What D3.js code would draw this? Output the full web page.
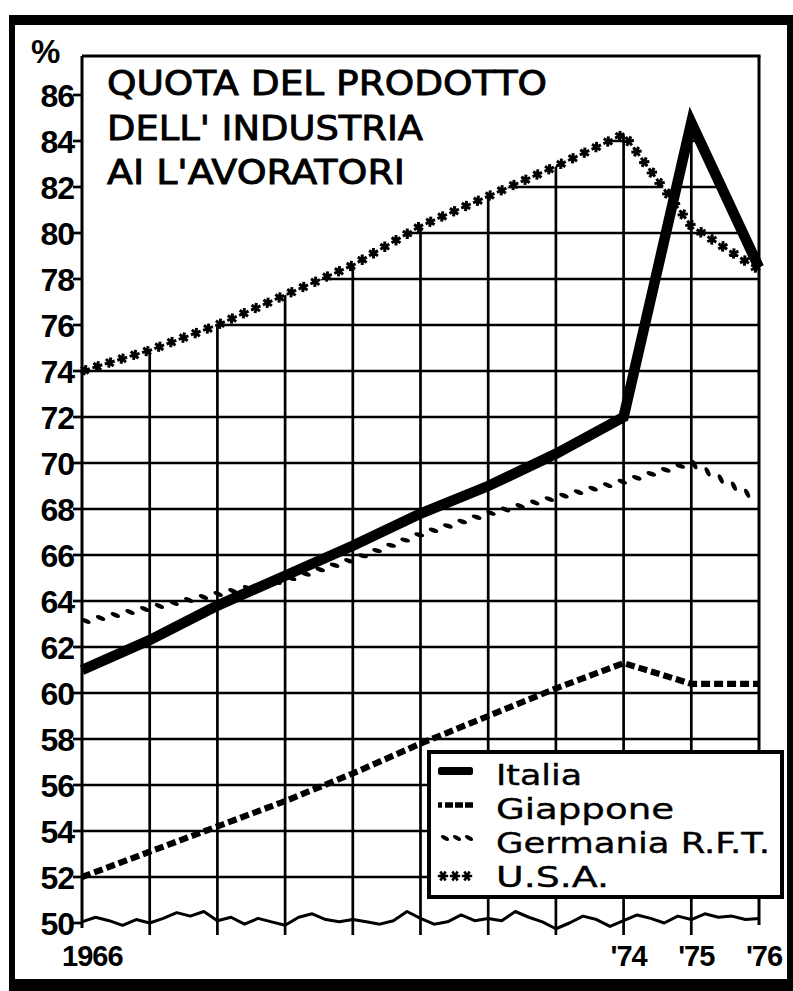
<!DOCTYPE html>
<html>
<head>
<meta charset="utf-8">
<script src="https://cdn.jsdelivr.net/npm/d3@7"></script>
<style>
  body { margin: 0; background: #fff; }
  svg { display: block; }
</style>
</head>
<body>
<svg width="793" height="991"></svg>
<script>

var years = [1966, 1967, 1968, 1969, 1970, 1971, 1972, 1973, 1974, 1975, 1976];

var italia   = [61.0, 62.3, 63.8, 65.1, 66.4, 67.8, 69.0, 70.4, 72.0, 84.8, 78.5];
var giappone = [52.0, 53.1, 54.2, 55.3, 56.5, 57.8, 59.0, 60.2, 61.3, 60.4, 60.4];
var germania = [63.1, 63.7, 64.3, 64.9, 65.8, 66.9, 67.8, 68.5, 69.2, 70.0, 68.4];
var usa      = [74.0, 74.9, 76.0, 77.3, 78.6, 80.3, 81.6, 82.9, 84.3, 80.3, 78.4];

var yTicks = [50, 52, 54, 56, 58, 60, 62, 64, 66, 68, 70, 72, 74, 76, 78, 80, 82, 84, 86];
var xTickYears  = [1966, 1974, 1975, 1976];
var xTickLabels = ["1966", "'74", "'75", "'76"];

var titleLines = ["QUOTA DEL PRODOTTO", "DELL' INDUSTRIA", "AI L'AVORATORI"];
var legendNames = ["Italia", "Giappone", "Germania R.F.T.", "U.S.A."];

// torn-paper baseline at 50, read every fifth of a year
var baseline = [50.05, 50.25, 50.1, 49.9, 50.15, 50.0, 50.2, 50.45, 50.3, 50.5, 50.1,
                50.25, 49.95, 50.2, 50.05, 49.9, 50.25, 50.4, 50.15, 50.05, 50.15,
                50.05, 49.95, 50.1, 50.5, 50.2, 49.95, 50.05, 50.35, 50.1, 50.2,
                50.1, 50.5, 50.25, 50.05, 49.75, 50.0, 50.3, 50.15, 49.85, 50.1,
                50.35, 50.2, 50.0, 50.3, 50.15, 50.4, 50.25, 50.3, 50.15, 50.2];

var svg = d3.select("svg");

var x = d3.scaleLinear().domain([1966, 1976]).range([82, 759]);
var y = d3.scaleLinear().domain([50, 86]).range([923, 95]);

var plotTop = 56, gridBottom = 935;

var pts = function(arr) {
    return arr.map(function(v, i) { return {year: years[i], v: v}; });
};

var line = d3.line()
    .x(function(d) { return x(d.year); })
    .y(function(d) { return y(d.v); });

// outer frame
var frame = svg.append("g").attr("class", "frame");
frame.append("rect").attr("x", 9).attr("y", 15).attr("width", 784).attr("height", 10);
frame.append("rect").attr("x", 9).attr("y", 15).attr("width", 6).attr("height", 976);
frame.append("rect").attr("x", 787).attr("y", 15).attr("width", 6).attr("height", 976);
frame.append("rect").attr("x", 9).attr("y", 979).attr("width", 784).attr("height", 12);

// grid only shows below the highest curve
var area = d3.area()
    .x(function(d) { return x(d.year); })
    .y0(gridBottom + 5)
    .y1(function(d) { return y(d.v); });

var clip = svg.append("defs").append("clipPath").attr("id", "gridclip");
clip.append("path").attr("d", area(pts(usa)));
clip.append("path").attr("d", area(pts(italia)));

var grid = svg.append("g")
    .attr("class", "grid")
    .attr("clip-path", "url(#gridclip)")
    .attr("stroke", "#000")
    .attr("stroke-width", 2.7);

grid.selectAll("line.h")
    .data(yTicks.filter(function(t) { return t > 50; }))
    .enter().append("line")
      .attr("class", "h")
      .attr("x1", x(1966)).attr("x2", x(1976))
      .attr("y1", function(d) { return y(d); })
      .attr("y2", function(d) { return y(d); });

grid.selectAll("line.v")
    .data(years.slice(1, -1))
    .enter().append("line")
      .attr("class", "v")
      .attr("x1", function(d) { return x(d); })
      .attr("x2", function(d) { return x(d); })
      .attr("y1", plotTop)
      .attr("y2", gridBottom);

// plot border
var border = svg.append("g").attr("stroke", "#000").attr("stroke-width", 3);
border.append("line").attr("x1", x(1966)).attr("x2", x(1976) + 1.5).attr("y1", plotTop).attr("y2", plotTop);
border.append("line").attr("x1", x(1966)).attr("x2", x(1966)).attr("y1", plotTop).attr("y2", 928);
border.append("line").attr("x1", x(1976)).attr("x2", x(1976)).attr("y1", plotTop).attr("y2", 925);

var baseLine = d3.line()
    .x(function(d, i) { return x(1966 + i / 5); })
    .y(function(d) { return y(d); });

svg.append("path")
    .attr("d", baseLine(baseline))
    .attr("fill", "none")
    .attr("stroke", "#000")
    .attr("stroke-width", 3)
    .attr("stroke-linejoin", "round");

// y axis ticks and labels
var yAxis = svg.append("g").attr("class", "yaxis");
yAxis.selectAll("line")
    .data(yTicks)
    .enter().append("line")
      .attr("x1", 73).attr("x2", x(1966))
      .attr("y1", function(d) { return y(d); })
      .attr("y2", function(d) { return y(d); })
      .attr("stroke", "#000")
      .attr("stroke-width", 2.7);

yAxis.selectAll("text")
    .data(yTicks)
    .enter().append("text")
      .attr("x", 74)
      .attr("y", function(d) { return y(d) + 11.5; })
      .attr("text-anchor", "end")
      .attr("font-family", "Liberation Sans, Arial, sans-serif")
      .attr("font-weight", "bold")
      .attr("font-size", 32)
      .attr("letter-spacing", -1)
      .text(function(d) { return d; });

svg.append("text")
    .attr("x", 31).attr("y", 63)
    .attr("font-family", "Liberation Sans, Arial, sans-serif")
    .attr("font-weight", "bold")
    .attr("font-size", 33)
    .text("%");

// x labels
svg.append("g").selectAll("text")
    .data(xTickYears)
    .enter().append("text")
      .attr("x", function(d, i) { return i == 0 ? 62 : x(d) + 5; })
      .attr("y", 966)
      .attr("text-anchor", function(d, i) { return i == 0 ? "start" : "middle"; })
      .attr("font-family", "Liberation Sans, Arial, sans-serif")
      .attr("font-weight", "bold")
      .attr("font-size", 29)
      .attr("letter-spacing", -1)
      .text(function(d, i) { return xTickLabels[i]; });

// title
var titleLengths = [440, 316, 298];
svg.append("g").selectAll("text")
    .data(titleLines)
    .enter().append("text")
      .attr("x", 107)
      .attr("y", function(d, i) { return 95 + i * 44.5; })
      .attr("font-family", "DejaVu Sans, sans-serif")
      .attr("font-size", 34)
      .attr("stroke", "#000")
      .attr("stroke-width", 0.9)
      .attr("textLength", function(d, i) { return titleLengths[i]; })
      .attr("lengthAdjust", "spacingAndGlyphs")
      .text(function(d) { return d; });

// series
svg.append("path")
    .attr("d", line(pts(giappone)))
    .attr("fill", "none")
    .attr("stroke", "#000")
    .attr("stroke-width", 6.2)
    .attr("stroke-dasharray", "9,4");

var marksAlong = function(pathNode, step, offset, fn) {
    var L = pathNode.getTotalLength();
    for (var s = offset; s < L; s += step) {
        var p = pathNode.getPointAtLength(s);
        var q = pathNode.getPointAtLength(Math.min(s + 1, L));
        var r = pathNode.getPointAtLength(Math.max(s - 1, 0));
        var ang = Math.atan2(q.y - r.y, q.x - r.x) * 180 / Math.PI;
        fn(p, ang);
    }
};

var gerGroup = svg.append("g");
var gerPath = gerGroup.append("path")
    .attr("d", line(pts(germania)))
    .attr("fill", "none")
    .attr("stroke", "none");
marksAlong(gerPath.node(), 15, 4, function(p, ang) {
    gerGroup.append("ellipse")
        .attr("rx", 5).attr("ry", 2.2)
        .attr("transform", "translate(" + p.x + "," + p.y + ") rotate(" + (ang + 35) + ")");
});

svg.append("path")
    .attr("d", line(pts(italia)))
    .attr("fill", "none")
    .attr("stroke", "#000")
    .attr("stroke-width", 10.5)
    .attr("stroke-linejoin", "miter")
    .attr("stroke-miterlimit", 6);

var star = d3.symbol().type(d3.symbolAsterisk).size(75);
var usaGroup = svg.append("g");
var usaPath = usaGroup.append("path")
    .attr("d", line(pts(usa)))
    .attr("fill", "none")
    .attr("stroke", "none");
marksAlong(usaPath.node(), 13, 3, function(p, ang) {
    usaGroup.append("path")
        .attr("d", star())
        .attr("stroke", "#000")
        .attr("stroke-width", 3)
        .attr("transform", "translate(" + p.x + "," + p.y + ") rotate(" + (ang + 90) + ")");
});

// legend
var legend = svg.append("g").attr("class", "legend");
legend.append("rect")
    .attr("x", 429).attr("y", 752)
    .attr("width", 353).attr("height", 145)
    .attr("fill", "#fff")
    .attr("stroke", "#000")
    .attr("stroke-width", 4);

var legendLengths = [86, 178, 274, 113];
legend.selectAll("text")
    .data(legendNames)
    .enter().append("text")
      .attr("x", 496)
      .attr("y", function(d, i) { return 785 + i * 34; })
      .attr("font-family", "DejaVu Sans, sans-serif")
      .attr("font-size", 29)
      .attr("stroke", "#000")
      .attr("stroke-width", 0.4)
      .attr("textLength", function(d, i) { return legendLengths[i]; })
      .attr("lengthAdjust", "spacingAndGlyphs")
      .text(function(d) { return d; });

legend.append("rect")
    .attr("x", 438).attr("y", 767)
    .attr("width", 35).attr("height", 8)
    .attr("rx", 2.5);

legend.append("line")
    .attr("x1", 438).attr("x2", 476)
    .attr("y1", 805).attr("y2", 805)
    .attr("stroke", "#000")
    .attr("stroke-width", 5.5)
    .attr("stroke-dasharray", "4,3,8,2,8,2,8");

[445, 457, 469].forEach(function(cx) {
    legend.append("ellipse")
        .attr("rx", 4.5).attr("ry", 2)
        .attr("transform", "translate(" + cx + ",838) rotate(30)");
});

[443, 455, 467].forEach(function(cx) {
    legend.append("path")
        .attr("d", star())
        .attr("stroke", "#000")
        .attr("stroke-width", 2.6)
        .attr("transform", "translate(" + cx + ",876) rotate(90)");
});

</script>
</body>
</html>
